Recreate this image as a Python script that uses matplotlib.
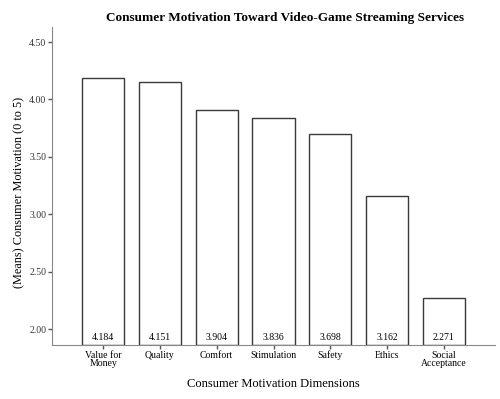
import matplotlib.pyplot as plt

categories = ["Value for\nMoney", "Quality", "Comfort", "Stimulation",
              "Safety", "Ethics", "Social\nAcceptance"]
means = [4.184, 4.151, 3.904, 3.836, 3.698, 3.162, 2.271]
yticks = [2.00, 2.50, 3.00, 3.50, 4.00, 4.50]

plt.rcParams['font.family'] = ['Liberation Serif', 'DejaVu Serif']

fig = plt.figure(figsize=(5.0, 3.99), dpi=100)
ax = fig.add_axes([0.104, 0.135, 0.886, 0.797])

ymin = 1.86
x = range(len(categories))
ax.bar(x, [m - ymin for m in means], bottom=ymin, width=0.74,
       color='white', edgecolor='#3a3a3a', linewidth=1.0)

for i, m in enumerate(means):
    ax.text(i, ymin + 0.03, f"{m:.3f}", ha='center', va='bottom', fontsize=7)

ax.set_xlim(-0.9, 6.9)
ax.set_ylim(ymin, 4.63)
ax.set_yticks(yticks)
ax.set_yticklabels([f"{t:.2f}" for t in yticks], fontsize=7, color='#333333')
ax.set_xticks(list(x))
ax.set_xticklabels(categories, fontsize=7, linespacing=0.95)

for side in ['top', 'right']:
    ax.spines[side].set_visible(False)
for side in ['left', 'bottom']:
    ax.spines[side].set_color('#888888')
ax.tick_params(axis='both', length=3, width=1, color='#555555', pad=1)

ax.set_xlabel("Consumer Motivation Dimensions", fontsize=9, labelpad=7)
ax.set_ylabel("(Means) Consumer Motivation (0 to 5)", fontsize=8.8, labelpad=3)
ax.yaxis.set_label_coords(-0.06, 0.48)
fig.suptitle("Consumer Motivation Toward Video-Game Streaming Services",
             fontsize=9.5, fontweight='bold', y=0.97, x=0.57)

fig.savefig("out.png", dpi=100)
